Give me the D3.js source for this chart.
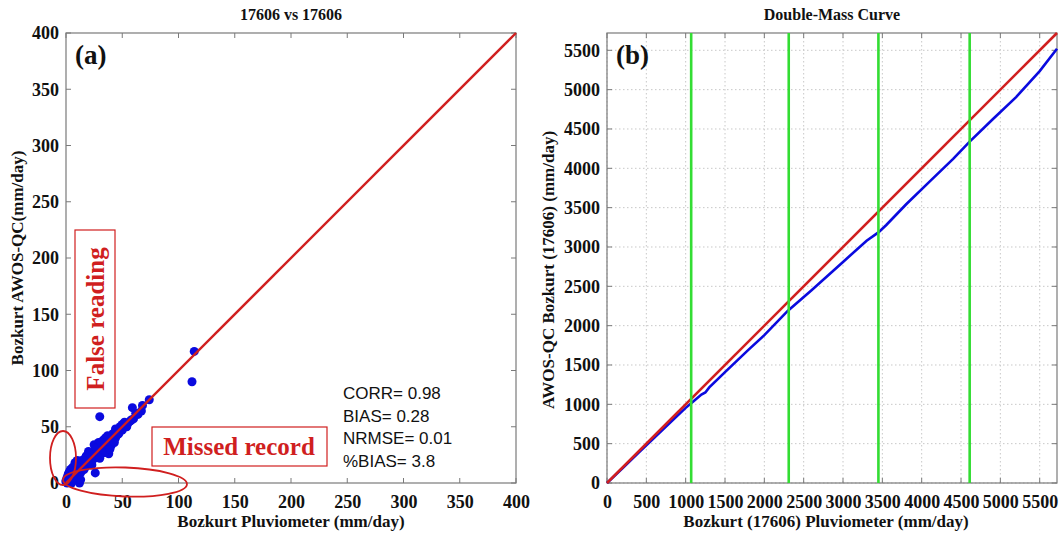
<!DOCTYPE html>
<html>
<head>
<meta charset="utf-8">
<script src="https://cdn.jsdelivr.net/npm/d3@7"></script>
<style>
  html, body { margin: 0; padding: 0; background: #fff; }
  svg { display: block; }
</style>
</head>
<body>
<svg id="chart" width="1063" height="536"></svg>
<script>
// ---- Panel (a): daily AWOS-QC vs pluviometer (mm/day) ----
const scatterPluvio = [0,1,2,3,1,4,5,2,6,7,3,8,5,9,10,4,11,12,6,13,14,8,15,16,12,13,17,18,19,20,21,22,23,24,25,26,27,28,29,30,31,32,33,34,35,36,38,38,40,41,42,44,45,46,48,50,52,55,58,60,62,59,67,68,74,30,112,114,26,10,14,18,22,20,25,29,38,46,33,36,16,9,5,3,7,11,24,28,42,50,54,57,64,2,4,6,1,0,8,19,35,44,17,21,27,31,34,37,40,23,30,39,43,47];
const scatterAwos   = [2,0,3,1,5,4,2,8,6,3,10,8,0,5,10,12,7,12,14,9,15,18,12,16,0,3,14,19,16,22,18,24,20,25,22,28,24,30,26,33,28,34,30,36,32,38,34,40,42,38,44,40,47,43,50,47,54,53,56,57,62,67,64,69,74,59,90,117,9,20,20,24,27,28,34,36,26,46,38,30,12,11,7,4,9,14,21,32,39,52,50,55,61,1,6,4,3,1,11,23,40,48,22,26,31,36,27,42,33,16,22,30,36,44];
const scatterTicks  = [0,50,100,150,200,250,300,350,400];
const statsLines    = ["CORR= 0.98", "BIAS= 0.28", "NRMSE= 0.01", "%BIAS= 3.8"];

// ---- Panel (b): double-mass curve, cumulative totals (mm) ----
const cumPluvio = [0,200,400,600,800,1000,1100,1200,1250,1300,1500,1800,2000,2300,2600,3000,3300,3450,3550,3800,4100,4400,4610,4900,5200,5500,5720];
const cumAwos   = [0,190,385,575,765,955,1040,1125,1150,1215,1410,1695,1880,2190,2450,2810,3080,3185,3280,3540,3830,4120,4340,4620,4905,5235,5520];
const breakPoints = [1070,2310,3450,4610];
const massTicks   = [0,500,1000,1500,2000,2500,3000,3500,4000,4500,5000,5500];

const svg = d3.select("#chart");
const serif = "'Liberation Serif', 'Times New Roman', serif";
const sans  = "'Liberation Sans', Arial, sans-serif";
const RED = "#d01f1f", BLUE = "#0a0adf", GREEN = "#33dd33", FRAME = "#7a7a7a";

function frameAxes(g, x, y, ticks, w, h) {
  // inward tick marks on all four sides, MATLAB style box
  const tl = 5;
  ticks.forEach(t => {
    const px = x(t), py = y(t);
    if (px >= -0.5 && px <= w + 0.5) {
      g.append("line").attr("x1", px).attr("x2", px).attr("y1", h).attr("y2", h - tl).attr("stroke", FRAME);
      g.append("line").attr("x1", px).attr("x2", px).attr("y1", 0).attr("y2", tl).attr("stroke", FRAME);
    }
    if (py >= -0.5 && py <= h + 0.5) {
      g.append("line").attr("x1", 0).attr("x2", tl).attr("y1", py).attr("y2", py).attr("stroke", FRAME);
      g.append("line").attr("x1", w).attr("x2", w - tl).attr("y1", py).attr("y2", py).attr("stroke", FRAME);
    }
  });
  g.append("rect").attr("width", w).attr("height", h)
    .attr("fill", "none").attr("stroke", FRAME).attr("stroke-width", 1.2);

  const xa = g.append("g").attr("transform", `translate(0,${h})`)
    .call(d3.axisBottom(x).tickValues(ticks).tickSize(0).tickPadding(12).tickFormat(d3.format("d")));
  const ya = g.append("g")
    .call(d3.axisLeft(y).tickValues(ticks).tickSize(0).tickPadding(7).tickFormat(d3.format("d")));
  [xa, ya].forEach(a => {
    a.select(".domain").remove();
    a.selectAll("text").attr("font-family", serif).attr("font-weight", "bold")
      .attr("font-size", 18).attr("fill", "#111");
  });
}

// ================= Panel (a) =================
{
  const L = 66, T = 33, W = 450, H = 450;
  const x = d3.scaleLinear().domain([0, 400]).range([0, W]);
  const y = d3.scaleLinear().domain([0, 400]).range([H, 0]);
  const g = svg.append("g").attr("transform", `translate(${L},${T})`);

  frameAxes(g, x, y, scatterTicks, W, H);

  const pts = scatterPluvio.map((v, i) => [v, scatterAwos[i]]);
  g.append("g").selectAll("circle").data(pts).join("circle")
    .attr("cx", d => x(d[0])).attr("cy", d => y(d[1])).attr("r", 4.5)
    .attr("fill", BLUE);

  g.append("line")
    .attr("x1", x(0)).attr("y1", y(0)).attr("x2", x(400)).attr("y2", y(400))
    .attr("stroke", RED).attr("stroke-width", 2.4);

  g.append("text").attr("x", 9).attr("y", 31).text("(a)")
    .attr("font-family", serif).attr("font-weight", "bold").attr("font-size", 27).attr("fill", "#111");

  // annotation: false readings near the y-axis
  g.append("rect").attr("x", 9).attr("y", 197).attr("width", 40).attr("height", 178)
    .attr("fill", "none").attr("stroke", RED).attr("stroke-width", 1.2);
  g.append("text").attr("transform", `translate(38,${197 + 89}) rotate(-90)`)
    .attr("text-anchor", "middle").text("False reading")
    .attr("font-family", serif).attr("font-weight", "bold").attr("font-size", 25).attr("fill", RED);

  // annotation: missed records along the x-axis
  g.append("rect").attr("x", 86).attr("y", 394).attr("width", 175).attr("height", 39)
    .attr("fill", "none").attr("stroke", RED).attr("stroke-width", 1.2);
  g.append("text").attr("x", 173).attr("y", 422).attr("text-anchor", "middle").text("Missed record")
    .attr("font-family", serif).attr("font-weight", "bold").attr("font-size", 25).attr("fill", RED);

  g.append("ellipse").attr("cx", -3).attr("cy", 425).attr("rx", 13).attr("ry", 27)
    .attr("fill", "none").attr("stroke", RED).attr("stroke-width", 1.8);
  g.append("ellipse").attr("cx", 59).attr("cy", 449).attr("rx", 62).attr("ry", 14.5)
    .attr("transform", "rotate(2,59,449)")
    .attr("fill", "none").attr("stroke", RED).attr("stroke-width", 1.8);

  g.append("g").selectAll("text").data(statsLines).join("text")
    .attr("x", 277).attr("y", (d, i) => 366 + i * 22.5).text(d => d)
    .attr("font-family", sans).attr("font-size", 17).attr("fill", "#111");

  svg.append("text").attr("x", L + W / 2).attr("y", 20).attr("text-anchor", "middle")
    .text("17606 vs 17606").attr("font-family", serif).attr("font-weight", "bold")
    .attr("font-size", 16).attr("fill", "#111");
  svg.append("text").attr("x", L + W / 2).attr("y", 527).attr("text-anchor", "middle")
    .text("Bozkurt Pluviometer (mm/day)").attr("font-family", serif).attr("font-weight", "bold")
    .attr("font-size", 17).attr("fill", "#111");
  svg.append("text").attr("transform", `translate(23,${T + H / 2}) rotate(-90)`)
    .attr("text-anchor", "middle").text("Bozkurt AWOS-QC(mm/day)")
    .attr("font-family", serif).attr("font-weight", "bold").attr("font-size", 17).attr("fill", "#111");
}

// ================= Panel (b) =================
{
  const L = 607, T = 33, W = 450, H = 450;
  const x = d3.scaleLinear().domain([0, 5720]).range([0, W]);
  const y = d3.scaleLinear().domain([0, 5720]).range([H, 0]);
  const g = svg.append("g").attr("transform", `translate(${L},${T})`);

  // dotted grid
  massTicks.forEach(t => {
    g.append("line").attr("x1", x(t)).attr("x2", x(t)).attr("y1", 0).attr("y2", H)
      .attr("stroke", "#c8c8c8").attr("stroke-dasharray", "1.5,2.5");
    g.append("line").attr("y1", y(t)).attr("y2", y(t)).attr("x1", 0).attr("x2", W)
      .attr("stroke", "#c8c8c8").attr("stroke-dasharray", "1.5,2.5");
  });

  frameAxes(g, x, y, massTicks, W, H);

  const line = d3.line().x(d => x(d[0])).y(d => y(d[1]));
  g.append("path").datum(cumPluvio.map((v, i) => [v, cumAwos[i]]))
    .attr("d", line).attr("fill", "none").attr("stroke", BLUE).attr("stroke-width", 2.6);
  g.append("path").datum([[0, 0], [5720, 5720]])
    .attr("d", line).attr("fill", "none").attr("stroke", RED).attr("stroke-width", 2.6);

  g.selectAll(".brk").data(breakPoints).join("line").attr("class", "brk")
    .attr("x1", d => x(d)).attr("x2", d => x(d)).attr("y1", 0).attr("y2", H)
    .attr("stroke", GREEN).attr("stroke-width", 2.6);

  g.append("text").attr("x", 9).attr("y", 31).text("(b)")
    .attr("font-family", serif).attr("font-weight", "bold").attr("font-size", 27).attr("fill", "#111");

  svg.append("text").attr("x", L + W / 2).attr("y", 20).attr("text-anchor", "middle")
    .text("Double-Mass Curve").attr("font-family", serif).attr("font-weight", "bold")
    .attr("font-size", 16).attr("fill", "#111");
  svg.append("text").attr("x", L + W / 2 - 6).attr("y", 527).attr("text-anchor", "middle")
    .text("Bozkurt (17606) Pluviometer (mm/day)").attr("font-family", serif).attr("font-weight", "bold")
    .attr("font-size", 17).attr("fill", "#111");
  svg.append("text").attr("transform", `translate(554,${T + H / 2 + 12}) rotate(-90)`)
    .attr("text-anchor", "middle").text("AWOS-QC Bozkurt (17606) (mm/day)")
    .attr("font-family", serif).attr("font-weight", "bold").attr("font-size", 17).attr("fill", "#111");
}
</script>
</body>
</html>
